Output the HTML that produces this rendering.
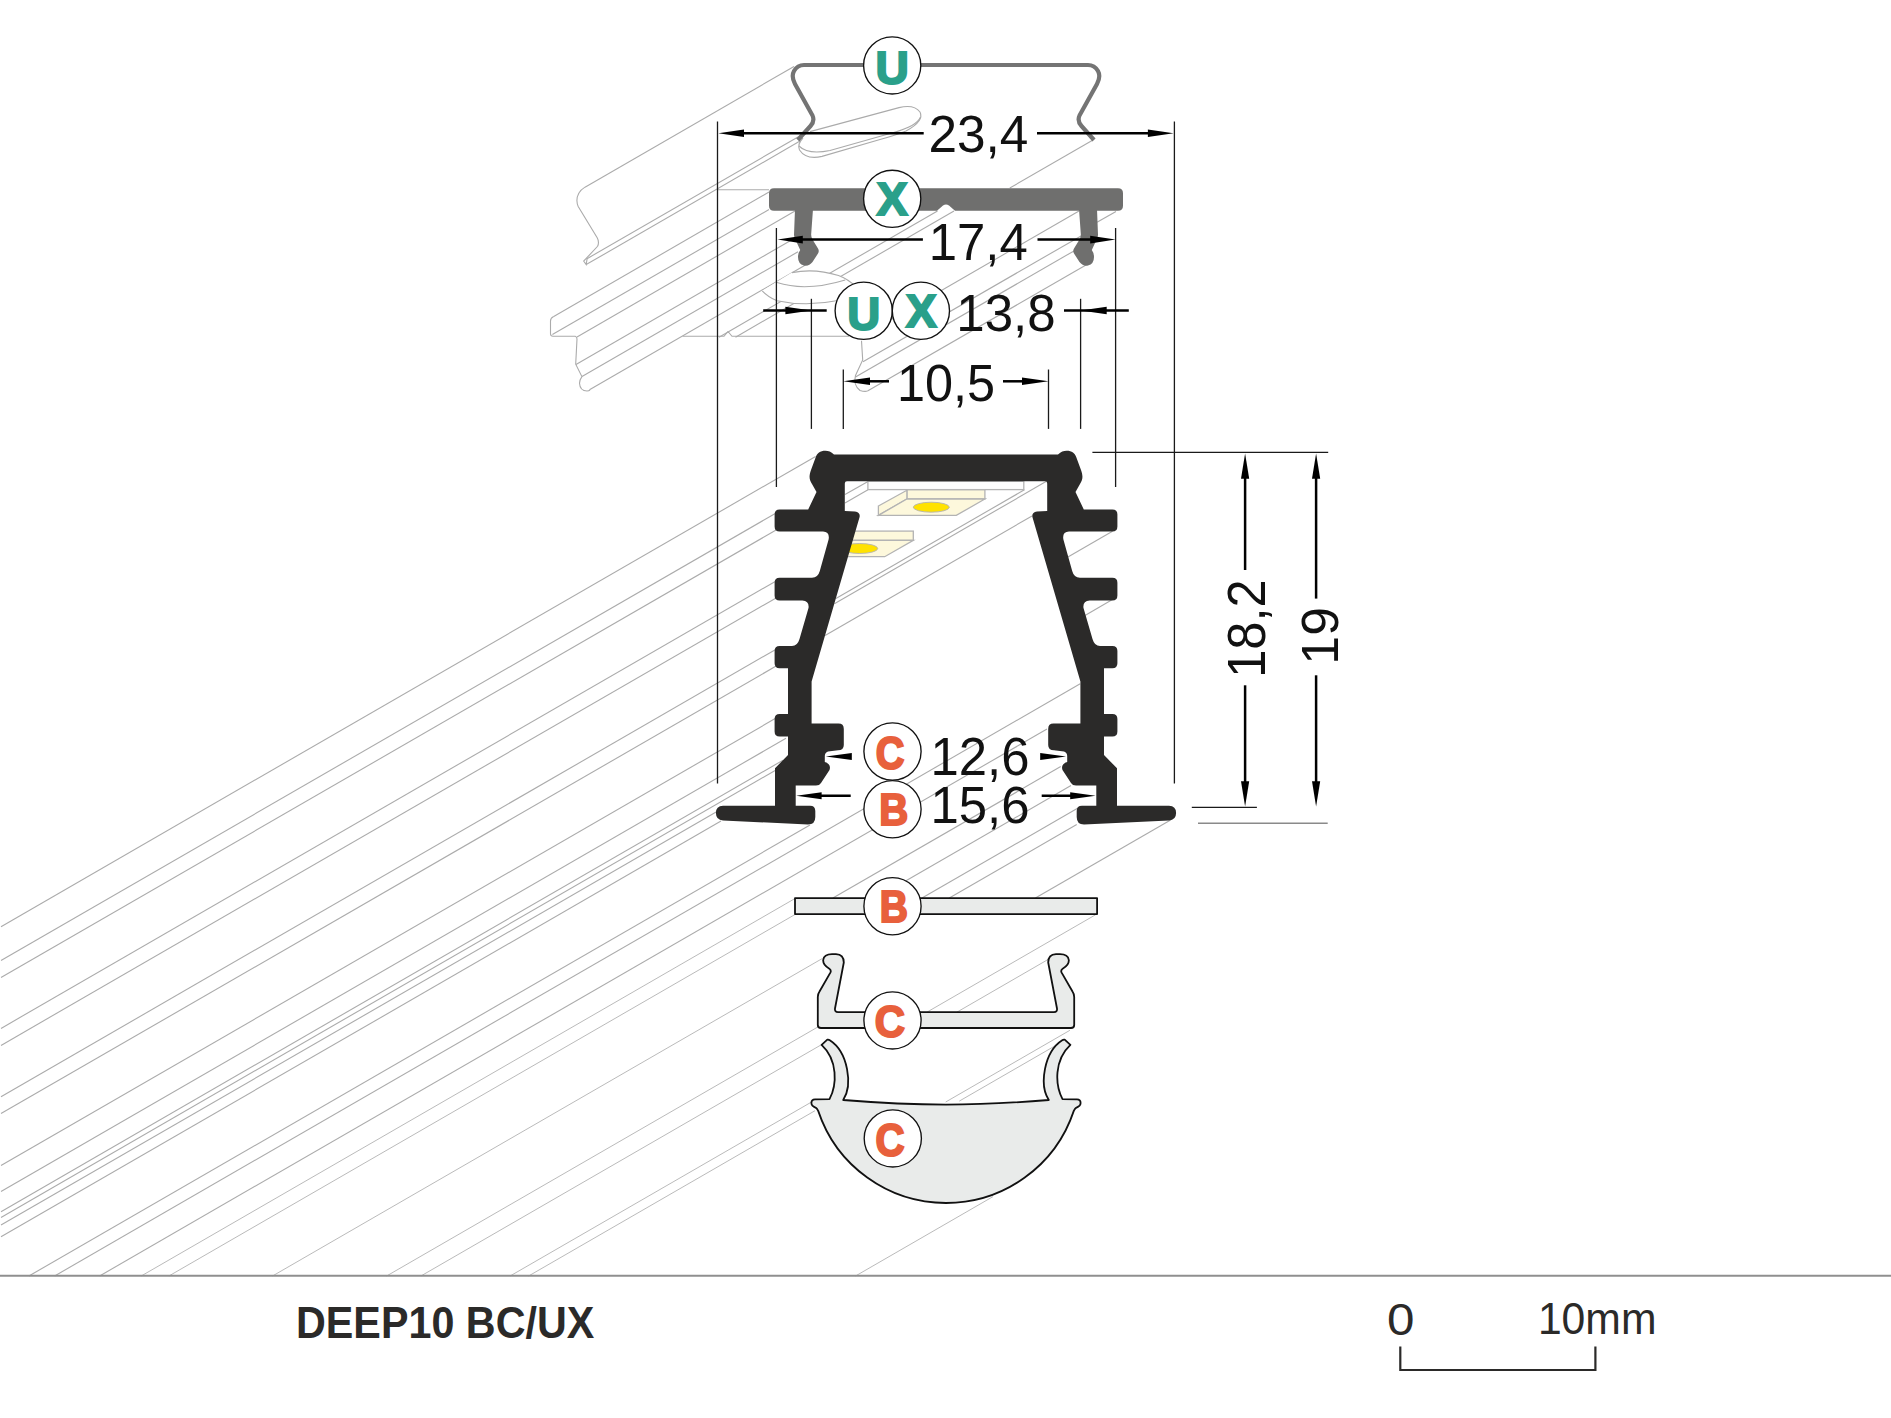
<!DOCTYPE html>
<html><head><meta charset="utf-8"><title>DEEP10 BC/UX</title>
<style>
html,body{margin:0;padding:0;background:#ffffff;width:1891px;height:1418px;overflow:hidden}
svg{display:block}
.ln{stroke:#ababab;stroke-width:1.1;fill:none}
.ln2{stroke:#a8a8a8;stroke-width:0.8;fill:none}
.dim{stroke:#000;stroke-width:2.5;fill:none}
.ext{stroke:#1a1a1a;stroke-width:1.3;fill:none}
.arr{fill:#000}
.circ{fill:#fff;stroke:#111;stroke-width:1.35}
.num{font-family:"Liberation Sans",sans-serif;font-size:100px;fill:#111}
.lt{font-family:"Liberation Sans",sans-serif;font-weight:bold;font-size:100px}
.teal{fill:#2aa08a;stroke:#2aa08a}
.org{fill:#e8603c;stroke:#e8603c}
.piece{fill:#e9ebea;stroke:#111;stroke-width:1.8;stroke-linejoin:round}
.foot{font-family:"Liberation Sans",sans-serif;font-weight:bold;font-size:100px;fill:#2b2a29}
.footn{font-family:"Liberation Sans",sans-serif;font-size:100px;fill:#2b2a29}
.led{stroke:#b3b3b3;stroke-width:1.3}
</style></head>
<body>
<svg width="1891" height="1418" viewBox="0 0 1891 1418">
<rect x="0" y="0" width="1891" height="1418" fill="#fff"/>
<g id="bglines">
<line class="ln" x1="1.0" y1="926.7" x2="815.6" y2="456.4"/>
<line class="ln" x1="1.0" y1="960.5" x2="777.0" y2="512.5"/>
<line class="ln" x1="1.0" y1="977.5" x2="777.0" y2="529.5"/>
<line class="ln" x1="1.0" y1="1028.4" x2="777.0" y2="580.4"/>
<line class="ln" x1="1.0" y1="1045.4" x2="777.0" y2="597.4"/>
<line class="ln" x1="1.0" y1="1096.7" x2="777.0" y2="648.7"/>
<line class="ln" x1="1.0" y1="1113.6" x2="777.0" y2="665.6"/>
<line class="ln" x1="1.0" y1="1165.5" x2="776.0" y2="718.1"/>
<line class="ln" x1="1.0" y1="1191.5" x2="786.0" y2="738.3"/>
<line class="ln" x1="1.0" y1="1211.7" x2="783.0" y2="760.2"/>
<line class="ln" x1="1.0" y1="1217.4" x2="776.0" y2="770.0"/>
<line class="ln" x1="1.0" y1="1225.0" x2="717.0" y2="811.6"/>
<line class="ln" x1="1.0" y1="1236.8" x2="721.0" y2="821.1"/>
<line class="ln" x1="28.9" y1="1276.0" x2="810.0" y2="825.0"/>
<line class="ln" x1="54.6" y1="1276.0" x2="1080.2" y2="683.8"/>
<line class="ln" x1="99.6" y1="1276.0" x2="1047.0" y2="729.0"/>
<line class="ln" x1="832.9" y1="898.1" x2="1060.7" y2="766.6"/>
<line class="ln" x1="1035.4" y1="898.1" x2="1170.6" y2="820.1"/>
<line class="ln" x1="1067.5" y1="557.2" x2="1112.5" y2="531.2"/>
<line class="ln" x1="1085.0" y1="615.4" x2="1111.6" y2="600.0"/>
<line class="ln" x1="876.1" y1="898.1" x2="1071.0" y2="785.6"/>
<line class="ln" x1="922.0" y1="898.1" x2="1078.0" y2="808.0"/>
<line class="ln" x1="949.3" y1="898.1" x2="1076.7" y2="824.6"/>
<line class="ln" x1="834.4" y1="603.8" x2="1046.0" y2="481.6"/>
<line class="ln" x1="835.9" y1="598.6" x2="1024.4" y2="489.8"/>
<line class="ln" x1="825.1" y1="635.4" x2="1032.0" y2="516.0"/>
<line class="ln" x1="845.0" y1="494.6" x2="868.0" y2="481.4"/>
<line class="ln" x1="845.0" y1="503.0" x2="868.0" y2="489.8"/>
<line class="ln2" x1="141.2" y1="1276.0" x2="795.0" y2="898.5"/>
<line class="ln2" x1="168.9" y1="1276.0" x2="795.0" y2="914.5"/>
<line class="ln2" x1="927.2" y1="1012.0" x2="1095.5" y2="914.8"/>
<line class="ln2" x1="272.5" y1="1276.0" x2="822.5" y2="958.4"/>
<line class="ln2" x1="386.6" y1="1276.0" x2="818.0" y2="1026.9"/>
<line class="ln2" x1="956.3" y1="1012.5" x2="1050.1" y2="958.3"/>
<line class="ln2" x1="945.7" y1="1102.0" x2="1069.9" y2="1030.3"/>
<line class="ln2" x1="420.9" y1="1276.0" x2="821.6" y2="1044.6"/>
<line class="ln2" x1="959.3" y1="1101.1" x2="1056.0" y2="1045.3"/>
<line class="ln2" x1="510.1" y1="1276.0" x2="811.0" y2="1102.3"/>
<line class="ln2" x1="528.6" y1="1276.0" x2="815.0" y2="1110.7"/>
<line class="ln2" x1="855.5" y1="1276.0" x2="993.0" y2="1196.6"/>
<line class="ln" x1="553.3" y1="316.7" x2="769.0" y2="192.1"/>
<line class="ln" x1="552.4" y1="334.6" x2="769.0" y2="209.5"/>
<line class="ln" x1="577.0" y1="336.9" x2="795.0" y2="211.0"/>
<line class="ln" x1="576.0" y1="364.4" x2="795.0" y2="238.0"/>
<line class="ln" x1="582.0" y1="376.5" x2="798.0" y2="251.8"/>
<line class="ln" x1="589.5" y1="389.7" x2="805.0" y2="265.2"/>
<line class="ln" x1="719.0" y1="337.2" x2="937.5" y2="211.0"/>
<line class="ln" x1="735.5" y1="337.2" x2="954.0" y2="211.0"/>
<line class="ln" x1="860.5" y1="337.2" x2="1079.0" y2="211.0"/>
<line class="ln" x1="863.0" y1="361.7" x2="1081.0" y2="235.9"/>
<line class="ln" x1="855.5" y1="377.1" x2="1074.0" y2="250.9"/>
<line class="ln" x1="867.5" y1="391.1" x2="1086.0" y2="265.0"/>
<line class="ln" x1="1097.0" y1="222.3" x2="1116.0" y2="211.4"/>
<line class="ln" x1="585.0" y1="187.2" x2="794.0" y2="66.5"/>
<line class="ln" x1="587.0" y1="258.7" x2="798.0" y2="136.9"/>
<line class="ln" x1="586.2" y1="264.6" x2="800.0" y2="141.1"/>
<line class="ln" x1="1009.8" y1="188.0" x2="1093.0" y2="140.0"/>
<line class="ln" x1="718" y1="189.7" x2="769" y2="189.7"/>
<path class="ln" d="M682.6 336.3 L724 336.3 L728 331.5 L732 336.3 L849 336.3"/>
<path class="ln" d="M553.3 316.7 Q550.5 318 550.5 321 L550.5 333.8 Q550.5 336.3 553 336.3 L575.2 336.3 Q577 337 577 339 L575.7 364.2 L581.9 376.6 Q579.5 380 579.5 383.3 Q580 391 587 391 Q589 391 590 390"/>
<path class="ln" d="M861.5 340.7 L862.7 360 L855.5 375.5 Q853 385 860 390.5 Q865 392 867.5 391"/>
<path class="ln" d="M585 187.1 Q577 192 576.9 200.6 Q577 204 578.2 206.5 L597.2 237.8 Q599.5 242 597.6 246.3 L583.7 261.1 L586.2 264.5 L587.1 258.6"/>
<path class="ln" d="M810 131.6 L899 107.6 Q914 104 920 112 Q924.5 121 906 131 Q895 135.5 880 139.5 L822 156.4 Q806 160 799.5 150 Q797 144 803 138"/>
<path class="ln" d="M920.5 117 Q917 126 893.6 132.5 L830 150.5 Q808 155 799 146"/>
<path d="M762.2 290.8 L791.9 272.6 Q815 268 838.5 275.6 Q848 279 852.6 284.4 L872 300 L835.6 300.7 Q806 307 777 300.7 Q768 297 762.2 290.8 Z" fill="#fff"/>
<path class="ln" d="M791.9 272.6 Q815 268 838.5 275.6 Q848 279 856 287"/>
<path class="ln" d="M777 282.6 Q806 292 845.2 280"/>
<path class="ln" d="M762.2 290.8 Q768 297 777 300.7 Q806 307 838 300.5"/>
</g>
<!-- LED strip -->
<g>
<rect class="led" x="867.9" y="481.3" width="155.9" height="8.3" fill="#fdfdfd"/>
<g id="led1">
<rect class="led" x="906.9" y="489.8" width="78" height="9.2" fill="#fdf8dc"/>
<polygon class="led" points="878.4,506 906.9,490.3 906.9,499 878.4,515.4" fill="#fdf8dc"/>
<polygon class="led" points="906.9,499 984.9,499 956.3,515.4 878.4,515.4" fill="#fdf8dc"/>
<ellipse cx="931.3" cy="507.2" rx="18" ry="5" fill="#ffe200" stroke="#b3b3b3" stroke-width="0.9"/>
</g>
<clipPath id="cav"><polygon points="845,481 1046,481 1046,511 1032,516 1000,640 845,640"/></clipPath><g clip-path="url(#cav)"><use href="#led1" transform="translate(-71.6 41.3)"/></g>
</g>
<!-- main profile -->
<path d="M946.00 454.60 L834.00 454.60 C831.00 451.50 828.50 450.80 825.40 450.80 C820.00 450.80 817.00 453.50 815.80 457.00 L811.00 470.00 C808.50 477.00 809.50 480.00 812.00 484.00 L816.50 492.00 L808.20 509.50 L779.60 509.50 Q774.60 509.50 774.60 514.50 L774.60 526.60 Q774.60 531.60 779.60 531.60 L823.00 531.60 Q830.00 532.00 828.60 539.50 L819.80 571.00 Q818.00 577.70 812.00 577.70 L779.60 577.70 Q774.60 577.70 774.60 582.70 L774.60 595.40 Q774.60 600.40 779.60 600.40 L802.30 600.40 Q809.50 601.00 808.50 608.00 L799.50 639.00 Q797.50 646.00 792.00 646.00 L779.60 646.00 Q774.60 646.00 774.60 651.00 L774.60 663.20 Q774.60 668.20 779.60 668.20 L788.00 668.20 L788.00 714.00 L779.60 714.00 Q774.60 714.00 774.60 719.00 L774.60 731.50 Q774.60 736.50 779.60 736.50 L788.00 736.50 L788.00 755.00 L775.00 768.30 L775.00 805.80 L723.00 805.80 Q715.90 806.00 715.90 813.00 Q716.00 820.00 723.00 820.50 L808.00 824.50 Q815.30 824.50 815.30 817.00 L815.30 811.00 Q815.30 805.80 810.00 805.80 L795.70 805.80 L795.70 785.50 L816.00 785.50 Q819.50 785.50 821.00 783.00 L829.50 770.00 Q831.50 764.00 824.80 762.00 L824.80 756.00 Q824.80 752.50 828.00 751.50 L838.00 750.30 Q843.80 750.30 843.80 745.00 L843.80 729.00 Q843.80 723.60 838.50 723.60 L811.60 723.60 L811.60 681.40 L859.60 517.00 Q860.50 512.30 855.00 511.50 L844.80 511.00 L844.80 483.50 Q844.80 481.20 847.00 481.20 L946.00 481.20 L1045.00 481.20 Q1047.20 481.20 1047.20 483.50 L1047.20 511.00 L1037.00 511.50 Q1031.50 512.30 1032.40 517.00 L1080.40 681.40 L1080.40 723.60 L1053.50 723.60 Q1048.20 723.60 1048.20 729.00 L1048.20 745.00 Q1048.20 750.30 1054.00 750.30 L1064.00 751.50 Q1067.20 752.50 1067.20 756.00 L1067.20 762.00 Q1060.50 764.00 1062.50 770.00 L1071.00 783.00 Q1072.50 785.50 1076.00 785.50 L1096.30 785.50 L1096.30 805.80 L1082.00 805.80 Q1076.70 805.80 1076.70 811.00 L1076.70 817.00 Q1076.70 824.50 1084.00 824.50 L1169.00 820.50 Q1176.00 820.00 1176.10 813.00 Q1176.10 806.00 1169.00 805.80 L1117.00 805.80 L1117.00 768.30 L1104.00 755.00 L1104.00 736.50 L1112.40 736.50 Q1117.40 736.50 1117.40 731.50 L1117.40 719.00 Q1117.40 714.00 1112.40 714.00 L1104.00 714.00 L1104.00 668.20 L1112.40 668.20 Q1117.40 668.20 1117.40 663.20 L1117.40 651.00 Q1117.40 646.00 1112.40 646.00 L1100.00 646.00 Q1094.50 646.00 1092.50 639.00 L1083.50 608.00 Q1082.50 601.00 1089.70 600.40 L1112.40 600.40 Q1117.40 600.40 1117.40 595.40 L1117.40 582.70 Q1117.40 577.70 1112.40 577.70 L1080.00 577.70 Q1074.00 577.70 1072.20 571.00 L1063.40 539.50 Q1062.00 532.00 1069.00 531.60 L1112.40 531.60 Q1117.40 531.60 1117.40 526.60 L1117.40 514.50 Q1117.40 509.50 1112.40 509.50 L1083.80 509.50 L1075.50 492.00 L1080.00 484.00 C1082.50 480.00 1083.50 477.00 1081.00 470.00 L1076.20 457.00 C1075.00 453.50 1072.00 450.80 1066.60 450.80 C1063.50 450.80 1061.00 451.50 1058.00 454.60 L946.00 454.60 Z" fill="#2b2a29"/>
<!-- X cap -->
<g fill="#6f6f6e">
<path d="M774 188.2 L1118 188.2 Q1123 188.2 1123 193.2 L1123 205.7 Q1123 210.7 1118 210.7 L955 210.7 L949 205.5 Q946 203.5 943 205.5 L937 210.7 L774 210.7 Q769 210.7 769 205.7 L769 193.2 Q769 188.2 774 188.2 Z"/>
<path id="xleg" d="M795 209 L813 209 L811.2 234 Q811 237 812.5 239.5 L818 248.5 Q819.5 251 818 253.5 L812.5 262 Q809 266.5 804 265.5 Q798 264 798 257 Q798 253 800.2 250 L797 243 Q794 239 794 235 Z"/>
<use href="#xleg" transform="matrix(-1 0 0 1 1892 0)"/>
</g>
<!-- U clip -->
<path d="M797.8 140 L810.5 126 Q815 121 812.5 115.5 L795 84 Q791 76.5 794 71 Q797.5 65 804 65 L1088 65 Q1094.5 65 1098 71 Q1101 76.5 1097 84 L1079.5 115.5 Q1077 121 1081.5 126 L1094 140" fill="none" stroke="#747474" stroke-width="4.2" stroke-linejoin="round"/>
<rect class="piece" x="795" y="898.1" width="302.1" height="16"/>
<path class="piece" d="M946 1028 L821 1028 Q817.8 1028 817.8 1025 L817.8 997 Q817.8 994 819.5 991.5 L830.5 972.4 Q831.5 970 829 968.5 Q822.8 965 823.2 960 Q824 954.2 832 954.2 L836 954.2 Q843.8 954.6 843.8 962.5 L835 1008.5 Q834.5 1012.1 838 1012.1 L946 1012.1"/>
<path class="piece" d="M946 1028 L821 1028 Q817.8 1028 817.8 1025 L817.8 997 Q817.8 994 819.5 991.5 L830.5 972.4 Q831.5 970 829 968.5 Q822.8 965 823.2 960 Q824 954.2 832 954.2 L836 954.2 Q843.8 954.6 843.8 962.5 L835 1008.5 Q834.5 1012.1 838 1012.1 L946 1012.1" transform="matrix(-1 0 0 1 1892 0)"/>
<path class="piece" d="M946 1203 A134.7 134.7 0 0 1 818.2 1110.9 Q817 1108.5 815.9 1107.8 Q811.4 1106 811.4 1103 Q811.4 1099.4 815 1099.4 L829.5 1099.2 C837 1085 838 1060 821.6 1044.8 L827.3 1039.7 Q829 1039.5 829.8 1040.3 C848 1052 853 1085 843.2 1100 Q900 1104.6 946 1104.6"/>
<path class="piece" d="M946 1203 A134.7 134.7 0 0 1 818.2 1110.9 Q817 1108.5 815.9 1107.8 Q811.4 1106 811.4 1103 Q811.4 1099.4 815 1099.4 L829.5 1099.2 C837 1085 838 1060 821.6 1044.8 L827.3 1039.7 Q829 1039.5 829.8 1040.3 C848 1052 853 1085 843.2 1100 Q900 1104.6 946 1104.6" transform="matrix(-1 0 0 1 1892 0)"/>
<g class="ext">
<line x1="717.5" y1="121.4" x2="717.5" y2="783.6"/>
<line x1="1174.4" y1="121.4" x2="1174.4" y2="783.6"/>
<line x1="776.4" y1="228" x2="776.4" y2="487"/>
<line x1="1115.6" y1="228" x2="1115.6" y2="487"/>
<line x1="811.4" y1="298.8" x2="811.4" y2="428.9"/>
<line x1="1080.6" y1="298.8" x2="1080.6" y2="428.9"/>
<line x1="843.3" y1="369.5" x2="843.3" y2="428.9"/>
<line x1="1048.5" y1="369.5" x2="1048.5" y2="428.9"/>
<line x1="1092.4" y1="452.3" x2="1328.2" y2="452.3"/>
<line x1="1191.8" y1="807.4" x2="1256.9" y2="807.4"/>
</g>
<line x1="1198" y1="823.2" x2="1327.7" y2="823.2" stroke="#8a8a8a" stroke-width="1.6"/>
<g class="dim">
<line x1="735" y1="133.3" x2="923.7" y2="133.3"/>
<line x1="1037" y1="133.3" x2="1160" y2="133.3"/>
<line x1="795" y1="239.6" x2="922.9" y2="239.6"/>
<line x1="1037.5" y1="239.6" x2="1100" y2="239.6"/>
<line x1="763.2" y1="310.5" x2="826.7" y2="310.5"/>
<line x1="1064" y1="310.5" x2="1128.8" y2="310.5"/>
<line x1="860" y1="381.3" x2="889" y2="381.3"/>
<line x1="1003" y1="381.3" x2="1035" y2="381.3"/>
<line x1="810" y1="795.8" x2="850.7" y2="795.8"/>
<line x1="1041.7" y1="795.8" x2="1082" y2="795.8"/>
<line x1="1245.1" y1="470" x2="1245.1" y2="570"/>
<line x1="1245.1" y1="685.3" x2="1245.1" y2="790"/>
<line x1="1316.1" y1="470" x2="1316.1" y2="598.6"/>
<line x1="1316.1" y1="675.3" x2="1316.1" y2="790"/>
</g>
<polygon class="arr" points="718.3,133.3 744.0,129.5 744.0,137.1"/>
<polygon class="arr" points="1173.6,133.3 1147.9,129.5 1147.9,137.1"/>
<polygon class="arr" points="777.5,239.6 802.8,235.8 802.8,243.4"/>
<polygon class="arr" points="1115.5,239.6 1090.2,235.8 1090.2,243.4"/>
<polygon class="arr" points="811.4,310.5 785.4,306.7 785.4,314.3"/>
<polygon class="arr" points="1080.6,310.5 1106.7,306.7 1106.7,314.3"/>
<polygon class="arr" points="843.3,381.3 870.0,377.5 870.0,385.1"/>
<polygon class="arr" points="1048.5,381.3 1022.0,377.5 1022.0,385.1"/>
<polygon class="arr" points="825.8,756.6 851.8,753.1 851.8,760.1"/>
<polygon class="arr" points="1066.0,756.6 1040.2,753.1 1040.2,760.1"/>
<polygon class="arr" points="796.2,795.8 821.6,792.3 821.6,799.3"/>
<polygon class="arr" points="1095.6,795.8 1070.2,792.3 1070.2,799.3"/>
<polygon class="arr" points="1245.1,453.4 1241.0,478.8 1249.2,478.8"/>
<polygon class="arr" points="1316.1,453.4 1312.0,478.8 1320.2,478.8"/>
<polygon class="arr" points="1245.1,806.6 1241.0,781.2 1249.2,781.2"/>
<polygon class="arr" points="1316.1,806.6 1312.0,781.2 1320.2,781.2"/>
<circle class="circ" cx="892.2" cy="65.4" r="28.6"/>
<circle class="circ" cx="892.2" cy="198.8" r="28.6"/>
<circle class="circ" cx="863.7" cy="310.8" r="28.6"/>
<circle class="circ" cx="920.9" cy="310.8" r="28.6"/>
<circle class="circ" cx="892.5" cy="751.5" r="28.6"/>
<circle class="circ" cx="892.5" cy="809.2" r="28.6"/>
<circle class="circ" cx="892.5" cy="906.2" r="28.6"/>
<circle class="circ" cx="892.5" cy="1020.4" r="28.6"/>
<circle class="circ" cx="892.8" cy="1138.4" r="28.6"/>
<text class="lt teal" transform="matrix(0.4617 0 0 0.4536 875.53 83.60)" x="0" y="0" stroke-width="2" vector-effect="non-scaling-stroke">U</text>
<text class="lt teal" transform="matrix(0.4688 0 0 0.4594 876.53 214.70)" x="0" y="0" stroke-width="2" vector-effect="non-scaling-stroke">X</text>
<text class="lt teal" transform="matrix(0.4567 0 0 0.4667 847.16 329.60)" x="0" y="0" stroke-width="2" vector-effect="non-scaling-stroke">U</text>
<text class="lt teal" transform="matrix(0.4641 0 0 0.4580 905.84 327.20)" x="0" y="0" stroke-width="2" vector-effect="non-scaling-stroke">X</text>
<text class="lt org" transform="matrix(0.3969 0 0 0.4629 875.81 768.50)" x="0" y="0" stroke-width="2" vector-effect="non-scaling-stroke">C</text>
<text class="lt org" transform="matrix(0.4016 0 0 0.4406 879.19 824.70)" x="0" y="0" stroke-width="2" vector-effect="non-scaling-stroke">B</text>
<text class="lt org" transform="matrix(0.3902 0 0 0.4493 879.67 922.00)" x="0" y="0" stroke-width="2" vector-effect="non-scaling-stroke">B</text>
<text class="lt org" transform="matrix(0.4185 0 0 0.4429 874.83 1036.70)" x="0" y="0" stroke-width="2" vector-effect="non-scaling-stroke">C</text>
<text class="lt org" transform="matrix(0.4031 0 0 0.4643 875.59 1155.50)" x="0" y="0" stroke-width="2" vector-effect="non-scaling-stroke">C</text>
<text class="num" transform="matrix(0.5134 0 0 0.5143 928.43 152.00)" x="0" y="0" >23,4</text>
<text class="num" transform="matrix(0.5092 0 0 0.5232 928.73 259.60)" x="0" y="0" >17,4</text>
<text class="num" transform="matrix(0.5104 0 0 0.5229 956.32 330.60)" x="0" y="0" >13,8</text>
<text class="num" transform="matrix(0.5044 0 0 0.5229 896.96 401.30)" x="0" y="0" >10,5</text>
<text class="num" transform="matrix(0.5088 0 0 0.5286 930.53 774.80)" x="0" y="0" >12,6</text>
<text class="num" transform="matrix(0.5088 0 0 0.5100 930.53 823.00)" x="0" y="0" >15,6</text>
<text class="num" transform="matrix(0 -0.5055 0.5286 0 1265.20 677.74)" x="0" y="0">18,2</text>
<text class="num" transform="matrix(0 -0.5184 0.5143 0 1337.70 664.65)" x="0" y="0">19</text>
<line x1="0" y1="1275.8" x2="1891" y2="1275.8" stroke="#8f8f8f" stroke-width="2"/>
<text class="foot" transform="matrix(0.4129 0 0 0.4507 296.01 1337.60)" x="0" y="0" >DEEP10 BC/UX</text>
<text class="footn" transform="matrix(0.4937 0 0 0.4457 1386.93 1335.10)" x="0" y="0" >0</text>
<text class="footn" transform="matrix(0.4270 0 0 0.4343 1537.88 1334.30)" x="0" y="0" >10mm</text>
<path d="M1400.3 1346.6 L1400.3 1370 L1595.4 1370 L1595.4 1346.6" fill="none" stroke="#2b2a29" stroke-width="2.2"/>
</svg>
</body></html>
